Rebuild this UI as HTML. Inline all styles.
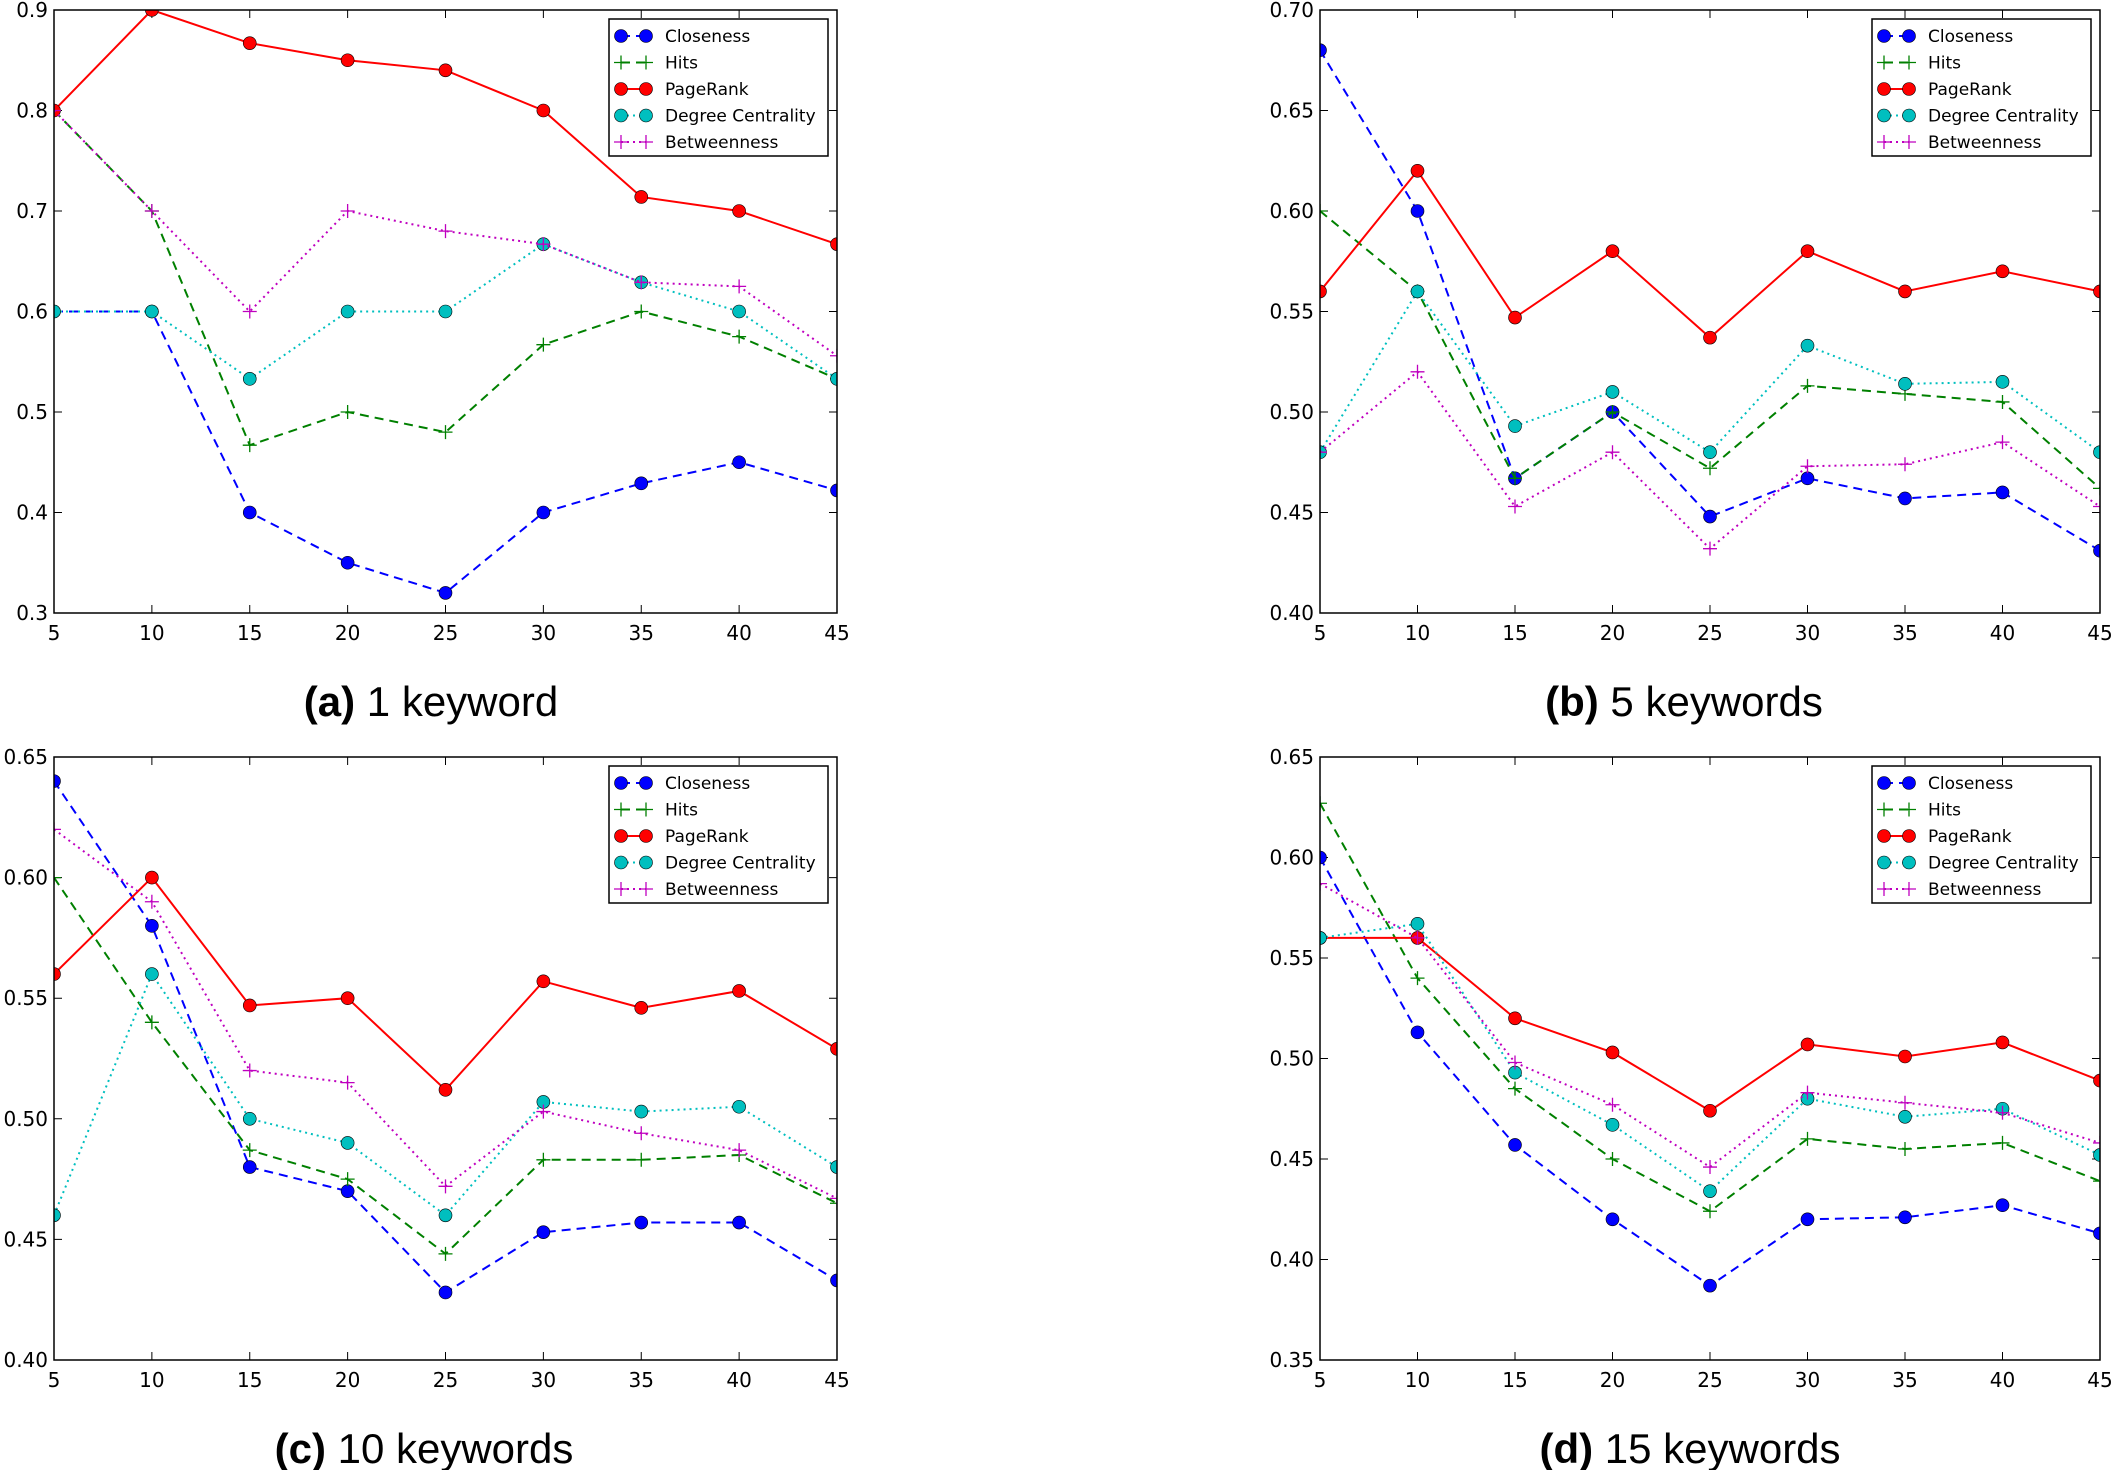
<!DOCTYPE html>
<html><head><meta charset="utf-8"><style>
html,body{margin:0;padding:0;background:#fff;}
svg{display:block;}
</style></head><body>
<svg id="fig" width="2112" height="1470" viewBox="0 0 2112 1470" xmlns="http://www.w3.org/2000/svg"></svg>
<script>
const xCategories = [5,10,15,20,25,30,35,40,45];
const seriesNames = ["Closeness","Hits","PageRank","Degree Centrality","Betweenness"];
// panel a
const aCloseness = [0.6,0.6,0.4,0.35,0.32,0.4,0.429,0.45,0.422];
const aHits = [0.8,0.7,0.467,0.5,0.48,0.567,0.6,0.575,0.533];
const aPageRank = [0.8,0.9,0.867,0.85,0.84,0.8,0.714,0.7,0.667];
const aDegree = [0.6,0.6,0.533,0.6,0.6,0.667,0.629,0.6,0.533];
const aBetweenness = [0.8,0.7,0.6,0.7,0.68,0.667,0.629,0.625,0.556];
const aTicks = ["0.3","0.4","0.5","0.6","0.7","0.8","0.9"];
// panel b
const bCloseness = [0.68,0.60,0.467,0.50,0.448,0.467,0.457,0.46,0.431];
const bHits = [0.60,0.56,0.467,0.50,0.472,0.513,0.509,0.505,0.462];
const bPageRank = [0.56,0.62,0.547,0.58,0.537,0.58,0.56,0.57,0.56];
const bDegree = [0.48,0.56,0.493,0.51,0.48,0.533,0.514,0.515,0.48];
const bBetweenness = [0.48,0.52,0.453,0.48,0.432,0.473,0.474,0.485,0.453];
const bTicks = ["0.40","0.45","0.50","0.55","0.60","0.65","0.70"];
// panel c
const cCloseness = [0.64,0.58,0.48,0.47,0.428,0.453,0.457,0.457,0.433];
const cHits = [0.60,0.54,0.487,0.475,0.444,0.483,0.483,0.485,0.465];
const cPageRank = [0.56,0.60,0.547,0.55,0.512,0.557,0.546,0.553,0.529];
const cDegree = [0.46,0.56,0.50,0.49,0.46,0.507,0.503,0.505,0.48];
const cBetweenness = [0.62,0.59,0.52,0.515,0.472,0.503,0.494,0.487,0.467];
const cTicks = ["0.40","0.45","0.50","0.55","0.60","0.65"];
// panel d
const dCloseness = [0.60,0.513,0.457,0.42,0.387,0.42,0.421,0.427,0.413];
const dHits = [0.627,0.54,0.485,0.45,0.424,0.46,0.455,0.458,0.439];
const dPageRank = [0.56,0.56,0.52,0.503,0.474,0.507,0.501,0.508,0.489];
const dDegree = [0.56,0.567,0.493,0.467,0.434,0.48,0.471,0.475,0.452];
const dBetweenness = [0.587,0.56,0.498,0.477,0.446,0.483,0.478,0.473,0.458];
const dTicks = ["0.35","0.40","0.45","0.50","0.55","0.60","0.65"];

const styles = [
  {color:"#0000ff", dash:"9,6", marker:"o"},
  {color:"#008000", dash:"9,6", marker:"+"},
  {color:"#ff0000", dash:"", marker:"o"},
  {color:"#00bfbf", dash:"2,4", marker:"o"},
  {color:"#bf00bf", dash:"2,4", marker:"+"}
];

const NS = "http://www.w3.org/2000/svg";
const svg = document.getElementById("fig");
function mk(tag, attrs, parent){
  const e = document.createElementNS(NS, tag);
  for (const k in attrs) e.setAttribute(k, attrs[k]);
  (parent||svg).appendChild(e);
  return e;
}
function marker(g, kind, x, y, color){
  if (kind === "o") {
    const c = mk("circle",{cx:x,cy:y,r:6.5,fill:color,stroke:"#000","stroke-width":0.6},g);
    return c;
  }
  const p = mk("path",{d:`M${x-7},${y}H${x+7}M${x},${y-7}V${y+7}`,stroke:color,"stroke-width":1.3,fill:"none"},g);
  return p;
}

const panels = [
  {id:"a",label:"(a)",title:" 1 keyword",L:54,R:837,T:10,B:613,ymin:0.3,ymax:0.9,ticks:aTicks,series:[aCloseness,aHits,aPageRank,aDegree,aBetweenness],tx:431},
  {id:"b",label:"(b)",title:" 5 keywords",L:1320,R:2100,T:10,B:613,ymin:0.40,ymax:0.70,ticks:bTicks,series:[bCloseness,bHits,bPageRank,bDegree,bBetweenness],tx:1684},
  {id:"c",label:"(c)",title:" 10 keywords",L:54,R:837,T:757,B:1360,ymin:0.40,ymax:0.65,ticks:cTicks,series:[cCloseness,cHits,cPageRank,cDegree,cBetweenness],tx:424},
  {id:"d",label:"(d)",title:" 15 keywords",L:1320,R:2100,T:757,B:1360,ymin:0.35,ymax:0.65,ticks:dTicks,series:[dCloseness,dHits,dPageRank,dDegree,dBetweenness],tx:1690}
];

panels.forEach(p=>{
  const g = mk("g",{});
  
  
  const xs = v => p.L + (v-5)/(45-5)*(p.R-p.L);
  const ys = v => p.B - (v-p.ymin)/(p.ymax-p.ymin)*(p.B-p.T);
  const cp = mk("clipPath",{id:"clip"+p.id},g);
  mk("rect",{x:p.L,y:p.T,width:p.R-p.L,height:p.B-p.T},cp);
  // ticks
  xCategories.forEach(v=>{
    const x = xs(v);
    mk("path",{d:`M${x},${p.B}v-8M${x},${p.T}v8`,stroke:"#000","stroke-width":1},g);
    const t = mk("text",{x:x,y:p.B+27,"text-anchor":"middle","font-size":20,"font-family":"DejaVu Sans, Liberation Sans, sans-serif",fill:"#000"},g);
    t.textContent = v;
    
    
  });
  p.ticks.forEach(s=>{
    const y = ys(parseFloat(s));
    mk("path",{d:`M${p.L},${y}h8M${p.R},${y}h-8`,stroke:"#000","stroke-width":1},g);
    const t = mk("text",{x:p.L-6,y:y+7,"text-anchor":"end","font-size":20,"font-family":"DejaVu Sans, Liberation Sans, sans-serif",fill:"#000"},g);
    t.textContent = s;
    
    
  });
  // series
  const sg = mk("g",{"clip-path":`url(#clip${p.id})`},g);
  p.series.forEach((vals,i)=>{
    const st = styles[i];
    const pts = vals.map((v,k)=>`${xs(xCategories[k])},${ys(v)}`).join(" ");
    const line = mk("polyline",{points:pts,fill:"none",stroke:st.color,"stroke-width":2,"stroke-dasharray":st.dash},sg);
    
    
    vals.forEach((v,k)=>{
      const m = marker(sg, st.marker, xs(xCategories[k]), ys(v), st.color);
      
      
    });
  });
  // frame
  const fr = mk("rect",{x:p.L,y:p.T,width:p.R-p.L,height:p.B-p.T,fill:"none",stroke:"#000","stroke-width":1.5},g);
  
  
  // legend
  const lx = p.R-228, ly = p.T+9;
  const lg = mk("g",{},g);
  
  
  mk("rect",{x:lx,y:ly,width:219,height:137,fill:"#fff",stroke:"#000","stroke-width":1.5},lg);
  seriesNames.forEach((n,i)=>{
    const st = styles[i];
    const y = ly+17+i*26.5;
    const e = mk("g",{},lg);
    
    
    mk("line",{x1:lx+12,y1:y,x2:lx+37,y2:y,stroke:st.color,"stroke-width":2,"stroke-dasharray":st.dash},e);
    marker(e, st.marker, lx+12, y, st.color);
    marker(e, st.marker, lx+37, y, st.color);
    const t = mk("text",{x:lx+56,y:y+6,"font-size":17,"font-family":"DejaVu Sans, Liberation Sans, sans-serif",fill:"#000"},e);
    t.textContent = n;
  });
  // title
  const tt = mk("text",{x:p.tx,y:p.B+103,"text-anchor":"middle","font-size":42,"font-family":"Liberation Sans, Arial, sans-serif",fill:"#000"},g);
  
  
  const b = mk("tspan",{"font-weight":"bold"},tt); b.textContent = p.label;
  const r = mk("tspan",{},tt); r.textContent = p.title;
});
</script>
</body></html>
